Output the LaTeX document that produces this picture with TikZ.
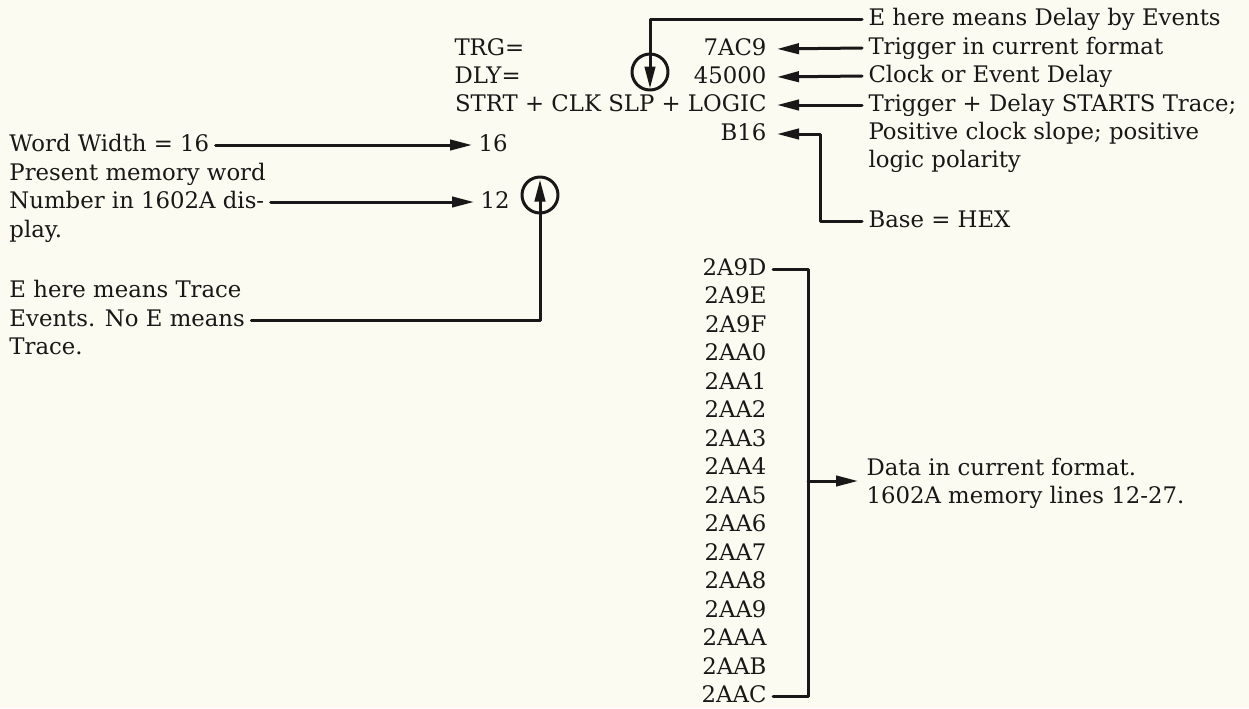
\documentclass[tikz,border=0pt]{standalone}
\usepackage{fontspec}
\setmainfont{DejaVu Serif}
\usetikzlibrary{arrows.meta,calc}
\definecolor{paper}{RGB}{252,251,241}
\definecolor{ink}{RGB}{25,23,23}

\begin{document}
\begin{tikzpicture}[line width=1.5pt, line cap=round, line join=round, >={Triangle[length=11pt,width=5.2pt]}, x=0.5pt, y=-0.5pt,
    every node/.style={font=\fontsize{11.4}{13}\selectfont, text=ink, inner xsep=2.5pt, inner ysep=0pt, text height=8pt, text depth=2pt},
    lbl/.style={anchor=base west, xshift=-2.5pt},
    val/.style={anchor=base east, xshift=2.5pt},
    ring/.style={circle, draw=ink, minimum size=18pt, inner sep=0pt}]
  \fill[paper] (0,0) rectangle (1249,708);
  \useasboundingbox (0,0) rectangle (1249,708);
  \node[lbl] (trg) at (453,55) {TRG=};
  \node[lbl] (dly) at (453,83) {DLY=};
  \node[val] (strt) at (768,111) {STRT + CLK SLP + LOGIC};
  \node[val] (trgval) at (768,55) {7AC9};
  \node[val] (dlyval) at (768,83) {45000};
  \node[val] (base) at (768,140) {B16};
  \node[ring] (dlycirc) at (650,72) {};
  \node[lbl] (dlye) at (867,25) {E here means Delay by Events};
  \node[lbl] (trgnote) at (867,54) {Trigger in current format};
  \node[lbl] (dlynote) at (867,82) {Clock or Event Delay};
  \node[lbl] (strtnote) at (867,111) {Trigger + Delay STARTS Trace;};
  \node[lbl] (strtnote2) at (867,139) {Positive clock slope; positive};
  \node[lbl] (strtnote3) at (867,167) {logic polarity};
  \node[lbl] (basenote) at (867,227) {Base = HEX};
  \node[lbl] (width) at (8,151) {Word Width = 16};
  \node[lbl] (widthval) at (477,151) {16};
  \node[lbl] (word1) at (8,180) {Present memory word};
  \node[lbl] (word2) at (8,208) {Number in 1602A dis-};
  \node[lbl] (word3) at (8,237) {play.};
  \node[lbl] (wordval) at (479,208) {12};
  \node[ring] (wordcirc) at (540,195) {};
  \node[lbl] (tre1) at (8,297) {E here means Trace};
  \node[lbl] (tre2) at (8,326) {Events. No E means};
  \node[lbl] (tre3) at (8,354) {Trace.};
  \node[lbl] (data1) at (865,475) {Data in current format.};
  \node[lbl] (data2) at (865,503) {1602A memory lines 12-27.};
  \foreach \v [count=\i] in {2A9D,2A9E,2A9F,2AA0,2AA1,2AA2,2AA3,2AA4,2AA5,2AA6,2AA7,2AA8,2AA9,2AAA,2AAB,2AAC}
    \node[val] (d\i) at (768,{246.5+28.5*\i}) {\v};
  \coordinate (bendb) at (820,0);
  \coordinate (brk) at (808,481);
  \draw[ink, ->] (dlye.west) -| ($(dlycirc.south)+(0,-3)$);
  \draw[ink, ->, shorten >=2pt] (trgnote.west) -- (trgval.east);
  \draw[ink, ->, shorten >=2pt] (dlynote.west) -- (dlyval.east);
  \draw[ink, ->, shorten >=2pt] (strtnote.west) -- (strt.east);
  \draw[ink, ->, shorten >=2pt] (basenote.west) -| (bendb |- base.east) -- (base.east);
  \draw[ink, ->] (width.east) -- (widthval.west);
  \draw[ink, ->] (word2.east) -- (wordval.west);
  \draw[ink, ->] (tre2.east) -| ($(wordcirc.north)+(0,4)$);
  \draw[ink] (d1.east) -| (brk) |- (d16.east);
  \draw[ink, ->, shorten >=1pt] (brk) -- (brk -| data1.west);
\end{tikzpicture}
\end{document}
